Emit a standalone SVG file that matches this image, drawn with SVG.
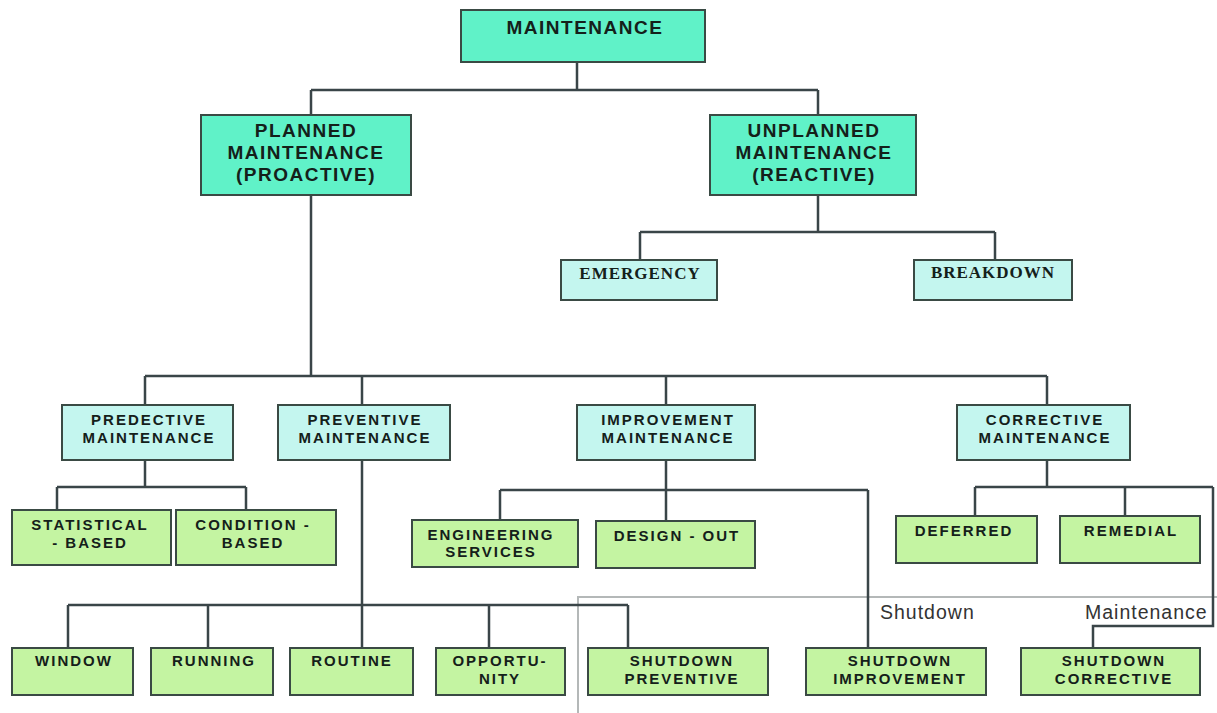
<svg xmlns="http://www.w3.org/2000/svg" width="1217" height="713" viewBox="0 0 1217 713">
<style>
.top{fill:#60f2c8;stroke:#3a4a44;stroke-width:2}
.mid{fill:#c4f6ef;stroke:#3a4a44;stroke-width:2}
.leaf{fill:#c4f4a2;stroke:#3a4a44;stroke-width:2}
.t{font-family:"Liberation Sans",Arial,sans-serif;font-weight:bold;fill:#14201a;text-anchor:middle}
.t1{font-size:19px;letter-spacing:1.5px}
.t2{font-size:15px;letter-spacing:2px}
.ts{font-family:"Liberation Serif","Times New Roman",serif;font-weight:bold;font-size:17px;letter-spacing:1px;fill:#14201a;text-anchor:middle}
.lbl{font-family:"Liberation Sans",Arial,sans-serif;font-size:19.5px;letter-spacing:1px;fill:#333}
.c{fill:none;stroke:#3a4548;stroke-width:2.5}
</style>
<rect width="1217" height="713" fill="#ffffff"/>
<g id="frame"><rect x="578" y="597" width="645" height="120" fill="none" stroke="#b4b8b8" stroke-width="2"/></g>
<g id="connectors">
<path class="c" d="M577 62V90M311 90H818M311 90V115M818 90V115"/>
<path class="c" d="M818 195V232M640 232H995M640 232V260M995 232V260"/>
<path class="c" d="M311 195V376M145 376H1047M145 376V405M362 376V405M666 376V405M1047 376V405"/>
<path class="c" d="M145 460V487M57 487H246M57 487V510M246 487V510"/>
<path class="c" d="M362 460V648M68 605H628M68 605V648M208 605V648M489 605V648M628 605V648"/>
<path class="c" d="M666 460V520M500 490H868M500 490V520M868 490V648"/>
<path class="c" d="M1047 460V487M975 487H1213M975 487V516M1125 487V516M1213 487V626H1093V648"/>
</g>
<g id="maintenance"><rect class="top" x="461" y="10" width="244" height="52"/><text class="t t1" x="585" y="34">MAINTENANCE</text></g>
<g id="planned"><rect class="top" x="201" y="115" width="210" height="80"/><text class="t t1" x="306" y="137">PLANNED</text><text class="t t1" x="306" y="159">MAINTENANCE</text><text class="t t1" x="306" y="181">(PROACTIVE)</text></g>
<g id="unplanned"><rect class="top" x="710" y="115" width="206" height="80"/><text class="t t1" x="814" y="137">UNPLANNED</text><text class="t t1" x="814" y="159">MAINTENANCE</text><text class="t t1" x="814" y="181">(REACTIVE)</text></g>
<g id="emergency"><rect class="mid" x="561" y="260" width="156" height="40"/><text class="ts" x="640" y="279">EMERGENCY</text></g>
<g id="breakdown"><rect class="mid" x="914" y="260" width="158" height="40"/><text class="ts" x="993" y="278">BREAKDOWN</text></g>
<g id="predective"><rect class="mid" x="62" y="405" width="171" height="55"/><text class="t t2" x="149" y="425">PREDECTIVE</text><text class="t t2" x="149" y="443">MAINTENANCE</text></g>
<g id="preventive"><rect class="mid" x="278" y="405" width="172" height="55"/><text class="t t2" x="365" y="425">PREVENTIVE</text><text class="t t2" x="365" y="443">MAINTENANCE</text></g>
<g id="improvement"><rect class="mid" x="577" y="405" width="178" height="55"/><text class="t t2" x="668" y="425">IMPROVEMENT</text><text class="t t2" x="668" y="443">MAINTENANCE</text></g>
<g id="corrective"><rect class="mid" x="957" y="405" width="173" height="55"/><text class="t t2" x="1045" y="425">CORRECTIVE</text><text class="t t2" x="1045" y="443">MAINTENANCE</text></g>
<g id="statistical"><rect class="leaf" x="12" y="510" width="159" height="55"/><text class="t t2" x="90" y="530">STATISTICAL</text><text class="t t2" x="90" y="548">- BASED</text></g>
<g id="condition"><rect class="leaf" x="176" y="510" width="160" height="55"/><text class="t t2" x="253" y="530">CONDITION -</text><text class="t t2" x="253" y="548">BASED</text></g>
<g id="engineering"><rect class="leaf" x="412" y="520" width="166" height="47"/><text class="t t2" x="491" y="540">ENGINEERING</text><text class="t t2" x="491" y="557">SERVICES</text></g>
<g id="designout"><rect class="leaf" x="596" y="521" width="159" height="47"/><text class="t t2" x="677" y="541">DESIGN - OUT</text></g>
<g id="deferred"><rect class="leaf" x="896" y="516" width="141" height="47"/><text class="t t2" x="964" y="536">DEFERRED</text></g>
<g id="remedial"><rect class="leaf" x="1060" y="516" width="140" height="47"/><text class="t t2" x="1131" y="536">REMEDIAL</text></g>
<g id="window"><rect class="leaf" x="12" y="648" width="121" height="47"/><text class="t t2" x="74" y="666">WINDOW</text></g>
<g id="running"><rect class="leaf" x="151" y="648" width="122" height="47"/><text class="t t2" x="214" y="666">RUNNING</text></g>
<g id="routine"><rect class="leaf" x="290" y="648" width="123" height="47"/><text class="t t2" x="352" y="666">ROUTINE</text></g>
<g id="opportunity"><rect class="leaf" x="436" y="648" width="129" height="47"/><text class="t t2" x="500" y="666">OPPORTU-</text><text class="t t2" x="500" y="684">NITY</text></g>
<g id="shutdown-preventive"><rect class="leaf" x="588" y="648" width="180" height="47"/><text class="t t2" x="682" y="666">SHUTDOWN</text><text class="t t2" x="682" y="684">PREVENTIVE</text></g>
<g id="shutdown-improvement"><rect class="leaf" x="806" y="648" width="180" height="47"/><text class="t t2" x="900" y="666">SHUTDOWN</text><text class="t t2" x="900" y="684">IMPROVEMENT</text></g>
<g id="shutdown-corrective"><rect class="leaf" x="1021" y="648" width="179" height="47"/><text class="t t2" x="1114" y="666">SHUTDOWN</text><text class="t t2" x="1114" y="684">CORRECTIVE</text></g>
<g id="labels"><text class="lbl" x="880" y="619">Shutdown</text><text class="lbl" x="1085" y="619">Maintenance</text></g>
</svg>
